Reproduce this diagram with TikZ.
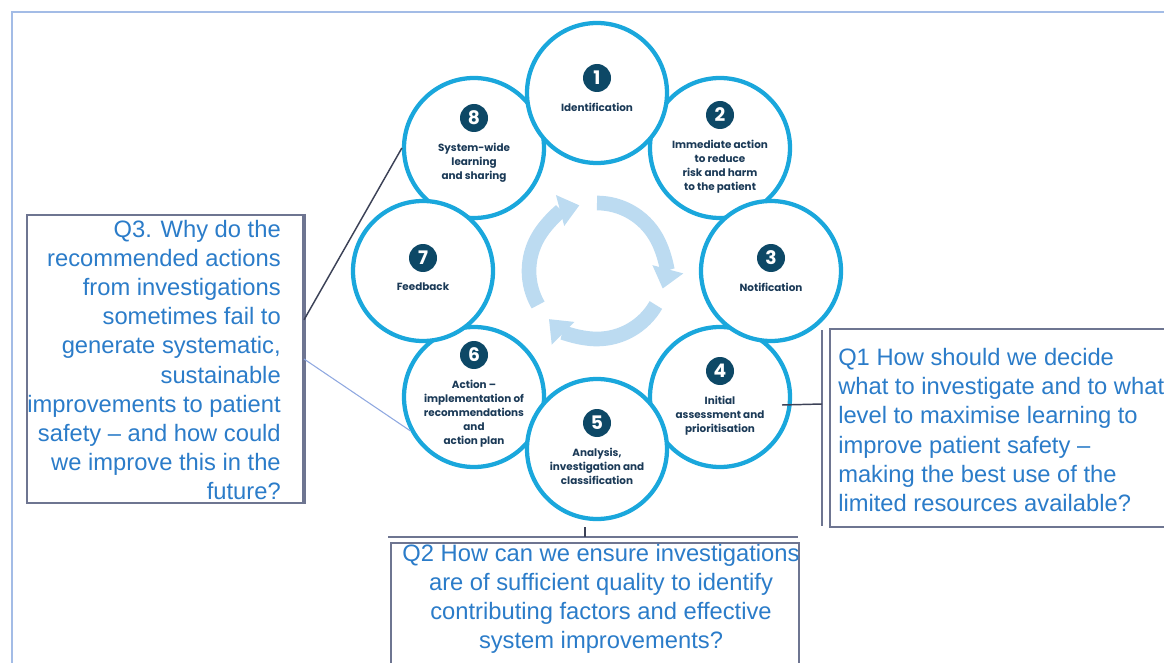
\documentclass[tikz,border=0pt]{standalone}
\usepackage{fontspec}
\setmainfont{Liberation Sans}
\newfontfamily\stagefont{Poppins}
\usetikzlibrary{positioning, arrows.meta, calc}
\definecolor{ringcyan}{HTML}{1AA7DC}
\definecolor{badgenavy}{HTML}{0D4866}
\definecolor{labelnavy}{HTML}{1B3A57}
\definecolor{cyclelight}{HTML}{BCDBF1}
\definecolor{qblue}{HTML}{2B7CC9}
\definecolor{boxgray}{HTML}{6E7591}
\definecolor{linkgray}{HTML}{3C4257}
\definecolor{linklight}{HTML}{8FA8E0}
\definecolor{framelight}{HTML}{A3BCE6}
\tikzstyle{stage} = [circle, draw=ringcyan, line width=3.2pt, fill=white, minimum size=105pt, inner sep=0pt]
\tikzstyle{badge} = [circle, fill=badgenavy, text=white, minimum size=21pt, inner sep=0pt, font=\stagefont\bfseries\fontsize{14}{14}\selectfont]
\tikzstyle{stagetext} = [align=center, text=labelnavy, inner sep=0pt, font=\stagefont\bfseries\fontsize{7.8}{10.5}\selectfont]
\tikzstyle{qbox} = [rectangle, draw=boxgray, line width=1.5pt, fill=white]
\tikzstyle{qtext} = [text=qblue, inner sep=0pt, font=\fontsize{17.8}{21.8}\selectfont]
\tikzstyle{cyclearrow} = [cyclelight, line width=11pt, -{Triangle[width=23pt,length=15pt]}]
\tikzstyle{link} = [draw=linkgray, line width=1.1pt]
\tikzstyle{lightlink} = [draw=linklight, line width=0.8pt]

\begin{document}
\begin{tikzpicture}[x=0.75pt, y=-0.75pt]
        \useasboundingbox (0,0) rectangle (1164,663);
        \clip (0,0) rectangle (1164,663);
        \draw [framelight, line width=2.2pt] (12,700) -- (12,12) -- (1200,12);

        % the eight stages, even ones underneath
        \node (s2) [stage] at (720,148) {};
        \node (s4) [stage] at (720,397) {};
        \node (s6) [stage] at (474,397) {};
        \node (s8) [stage] at (474,148) {};
        \node (s1) [stage] at (597,93) {};
        \node (s3) [stage] at (771,271) {};
        \node (s5) [stage] at (597,449) {};
        \node (s7) [stage] at (423,271) {};

        \node (b1) [badge] at ($(s1)+(0,-15)$) {1};
        \node (t1) [stagetext, below=8pt of b1] {Identification};
        \node (b2) [badge] at ($(s2)+(0,-33)$) {2};
        \node (t2) [stagetext, below=8pt of b2] {Immediate action\\to reduce\\risk and harm\\to the patient};
        \node (b3) [badge] at ($(s3)+(0,-13)$) {3};
        \node (t3) [stagetext, below=8pt of b3] {Notification};
        \node (b4) [badge] at ($(s4)+(0,-26)$) {4};
        \node (t4) [stagetext, below=8pt of b4] {Initial\\assessment and\\prioritisation};
        \node (b5) [badge] at ($(s5)+(0,-26)$) {5};
        \node (t5) [stagetext, below=8pt of b5] {Analysis,\\investigation and\\classification};
        \node (b6) [badge] at ($(s6)+(0,-42)$) {6};
        \node (t6) [stagetext, below=8pt of b6] {Action –\\implementation of\\recommendations\\and\\action plan};
        \node (b7) [badge] at ($(s7)+(0,-13)$) {7};
        \node (t7) [stagetext, below=8pt of b7] {Feedback};
        \node (b8) [badge] at ($(s8)+(0,-30)$) {8};
        \node (t8) [stagetext, below=8pt of b8] {System-wide\\learning\\and sharing};

        % cycle in the middle
        \begin{scope}[shift={(597,271)}, yscale=-1]
            \draw [cyclearrow] (210:68) arc[start angle=210, end angle=105, radius=68];
            \draw [cyclearrow] (90:68) arc[start angle=90, end angle=-15, radius=68];
            \draw [cyclearrow] (-30:68) arc[start angle=-30, end angle=-135, radius=68];
        \end{scope}

        % questions
        \node (q3) [qbox, minimum width=207pt, minimum height=216pt] at (165,359) {};
        \draw [boxgray, line width=3.5pt] (q3.north east) -- (q3.south east);
        \node (q3text) [qtext, align=right, anchor=east] at (281,360) {Q3. Why do the\\recommended actions\\from investigations\\sometimes fail to\\generate systematic,\\sustainable\\improvements to patient\\safety – and how could\\we improve this in the\\future?};

        \node (q1) [qbox, anchor=north west, minimum width=263pt, minimum height=148.5pt] at (829,328) {};
        \node (q1text) [qtext, align=left, anchor=west] at (838,430) {Q1 How should we decide\\what to investigate and to what\\level to maximise learning to\\improve patient safety –\\making the best use of the\\limited resources available?};
        \coordinate (q1top) at (822,330);
        \coordinate (q1bot) at (822,526);
        \coordinate (q1hook) at (822,404);

        \node (q2) [qbox, anchor=north west, minimum width=306pt, minimum height=130pt] at (390,542) {};
        \node (q2text) [qtext, align=center] at (601,599) {Q2 How can we ensure investigations\\are of sufficient quality to identify\\contributing factors and effective\\system improvements?};
        \coordinate (q2left) at (388,537);
        \coordinate (q2right) at (798,537);
        \coordinate (q2hook) at (585,537);

        % connectors
        \draw [link] ($(q3.north east)!0.365!(q3.south east)$) -- (s8.west);
        \draw [lightlink] (q3.east) -- (s6.208);
        \draw [boxgray, line width=1.5pt] (q1top) -- (q1bot);
        \draw [link] ($(s4)+(62,8)$) -- (q1hook);
        \draw [boxgray, line width=2.2pt] (q2left) -- (q2right);
        \draw [link] ($(q2hook)+(0,-10)$) -- (q2hook);
    \end{tikzpicture}
\end{document}
